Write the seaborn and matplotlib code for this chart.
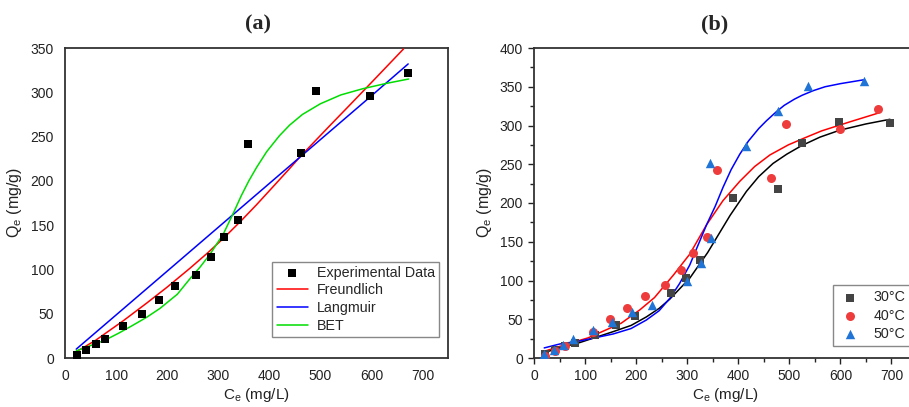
import matplotlib
matplotlib.use("Agg")
import matplotlib.pyplot as plt
from matplotlib.ticker import MultipleLocator
import seaborn as sns

# ---------------- data: panel (a) ----------------
exp_x = [23, 41, 60, 79, 114, 150, 184, 216, 256, 285, 311, 338, 358, 463, 492, 598, 672]
exp_y = [3, 9, 16, 21, 36, 50, 65, 81, 94, 114, 137, 156, 242, 232, 301, 296, 322]

freund_x = [22, 60, 114, 160, 200, 244, 280, 310, 345, 375, 410, 440, 460, 518, 560, 610, 663]
freund_y = [7, 20, 42, 62, 80, 101, 119, 135, 155, 173, 195, 214, 227, 262, 287, 317, 349]

lang_x = [22, 200, 400, 600, 672]
lang_y = [10, 98, 197, 296, 332]

bet_x = [22, 50, 78, 105, 130, 160, 186, 220, 244, 265, 285, 310, 330, 345, 360, 375,
         395, 420, 440, 465, 500, 540, 583, 629, 673]
bet_y = [8, 14, 20, 28, 36, 46, 56, 72, 89, 103, 118, 140, 164, 183, 200, 215,
         233, 251, 263, 275, 287, 297, 304, 310, 315]

# ---------------- data: panel (b) ----------------
t30_x = [21, 41, 60, 81, 119, 160, 197, 268, 297, 325, 390, 478, 524, 597, 698]
t30_y = [5, 10, 15, 19, 30, 42, 54, 84, 103, 127, 206, 218, 278, 304, 303]

t40_x = [22, 41, 61, 116, 149, 183, 217, 256, 288, 312, 338, 359, 465, 493, 599, 674]
t40_y = [2, 9, 15, 34, 50, 64, 80, 94, 113, 136, 156, 242, 232, 302, 296, 321]

t50_x = [20, 40, 57, 76, 115, 153, 191, 232, 299, 328, 346, 345, 416, 477, 537, 646]
t50_y = [5, 10, 17, 25, 36, 47, 60, 69, 100, 122, 155, 252, 274, 319, 351, 357]

fit30_x = [20, 50, 90, 155, 190, 220, 245, 266, 305, 340, 384, 416, 440, 468, 495, 524,
           560, 599, 650, 697]
fit30_y = [7, 13, 20, 34, 42, 53, 64, 76, 103, 136, 184, 215, 234, 251, 263, 274,
           285, 294, 302, 308]

fit40_x = [22, 60, 106, 171, 207, 236, 273, 305, 338, 370, 403, 432, 462, 498, 530, 563, 620, 674]
fit40_y = [9, 17, 26, 45, 62, 78, 107, 134, 172, 203, 228, 247, 262, 275, 284, 293, 305, 316]

fit50_x = [20, 50, 90, 155, 190, 220, 245, 266, 285, 305, 338, 355, 370, 386, 403, 420,
           440, 455, 475, 490, 510, 525, 547, 570, 600, 646]
fit50_y = [13, 18, 22, 31, 38, 49, 61, 77, 96, 120, 172, 196, 220, 243, 263, 280,
           296, 306, 318, 326, 334, 339, 345, 350, 354, 359]

labels_a = ["Experimental Data", "Freundlich", "Langmuir", "BET"]
labels_b = ["30\u00b0C", "40\u00b0C", "50\u00b0C"]
xticks = [0, 100, 200, 300, 400, 500, 600, 700]

# ---------------- style ----------------
sns.set_style("white")
plt.rcParams["font.family"] = ["Liberation Sans", "DejaVu Sans"]
plt.rcParams["mathtext.fontset"] = "custom"
plt.rcParams["mathtext.rm"] = "Liberation Sans"
plt.rcParams["mathtext.it"] = "Liberation Sans:italic"

W, H = 909, 407
fig = plt.figure(figsize=(W / 100, H / 100), dpi=100)

def px_axes(l, r, t, b):
    return fig.add_axes([l / W, 1 - b / H, (r - l) / W, (b - t) / H])

ax1 = px_axes(65, 448, 48, 358)
ax2 = px_axes(534, 917, 48, 358)

spine_col = "#333333"
text_col = "#222222"

# ---------------- panel (a) ----------------
sns.scatterplot(x=exp_x, y=exp_y, ax=ax1, marker="s", color="black", s=34,
                edgecolor="black", linewidth=0, label=labels_a[0], zorder=4)
sns.lineplot(x=freund_x, y=freund_y, ax=ax1, color="#ff0000", lw=1.1,
             sort=False, estimator=None, label=labels_a[1], zorder=3)
sns.lineplot(x=lang_x, y=lang_y, ax=ax1, color="#0000ff", lw=1.1,
             sort=False, estimator=None, label=labels_a[2], zorder=3)
sns.lineplot(x=bet_x, y=bet_y, ax=ax1, color="#00dd00", lw=1.1,
             sort=False, estimator=None, label=labels_a[3], zorder=3)

ax1.set_xlim(0, 750)
ax1.set_ylim(0, 350)
ax1.set_xticks(xticks)
ax1.yaxis.set_major_locator(MultipleLocator(50))
ax1.tick_params(axis="both", length=0, pad=8, labelsize=10, colors=text_col)
for sp in ax1.spines.values():
    sp.set_color(spine_col)
    sp.set_linewidth(1.3)
ax1.set_xlabel("C$_\\mathrm{e}$ (mg/L)", fontsize=11, labelpad=2, color=text_col)
ax1.set_ylabel("Q$_\\mathrm{e}$ (mg/g)", fontsize=11.5, labelpad=5, color=text_col)

leg1 = ax1.legend(loc="lower right", bbox_to_anchor=(0.977, 0.068), borderaxespad=0,
                  fontsize=10.3, frameon=True, fancybox=False, handlelength=2.2,
                  handletextpad=0.6, labelspacing=0.25, borderpad=0.3,
                  framealpha=1)
leg1.get_frame().set_edgecolor("#888888")
leg1.get_frame().set_linewidth(1.0)

# ---------------- panel (b) ----------------
sns.lineplot(x=fit30_x, y=fit30_y, ax=ax2, color="black", lw=1.1,
             sort=False, estimator=None, legend=False, zorder=3)
sns.lineplot(x=fit40_x, y=fit40_y, ax=ax2, color="#ff0000", lw=1.1,
             sort=False, estimator=None, legend=False, zorder=3)
sns.lineplot(x=fit50_x, y=fit50_y, ax=ax2, color="#0000ff", lw=1.1,
             sort=False, estimator=None, legend=False, zorder=3)
sns.scatterplot(x=t30_x, y=t30_y, ax=ax2, marker="s", color="#444444", s=32,
                linewidth=0, label=labels_b[0], zorder=4)
sns.scatterplot(x=t40_x, y=t40_y, ax=ax2, marker="o", color="#ee3b3b", s=42,
                linewidth=0, label=labels_b[1], zorder=4)
sns.scatterplot(x=t50_x, y=t50_y, ax=ax2, marker="^", color="#1f74d6", s=46,
                linewidth=0, label=labels_b[2], zorder=4)

ax2.set_xlim(0, 750)
ax2.set_ylim(0, 400)
ax2.set_xticks(xticks)
ax2.yaxis.set_major_locator(MultipleLocator(50))
ax2.xaxis.set_minor_locator(MultipleLocator(50))
ax2.yaxis.set_minor_locator(MultipleLocator(25))
ax2.tick_params(axis="both", which="major", direction="out", length=4, width=1,
                pad=4, labelsize=10, colors=text_col, bottom=True, left=True)
ax2.tick_params(axis="both", which="minor", direction="out", length=3, width=1,
                bottom=True, left=True, colors=text_col)
for sp in ax2.spines.values():
    sp.set_color(spine_col)
    sp.set_linewidth(1.3)
ax2.set_xlabel("C$_\\mathrm{e}$ (mg/L)", fontsize=11, labelpad=2, color=text_col)
ax2.set_ylabel("Q$_\\mathrm{e}$ (mg/g)", fontsize=11.5, labelpad=4, color=text_col)

leg2 = ax2.legend(loc="lower left", bbox_to_anchor=(0.781, 0.039), borderaxespad=0,
                  fontsize=10.3, frameon=True, fancybox=False, handlelength=1.6,
                  handletextpad=0.9, labelspacing=0.3, borderpad=0.35,
                  framealpha=1)
leg2.get_frame().set_edgecolor("#888888")
leg2.get_frame().set_linewidth(1.0)

# ---------------- titles ----------------
fig.text(258 / W, 1 - 24 / H, "(a)", ha="center", va="center",
         family=["Liberation Serif", "DejaVu Serif"], fontweight="bold", fontsize=16)
fig.text(715 / W, 1 - 24 / H, "(b)", ha="center", va="center",
         family=["Liberation Serif", "DejaVu Serif"], fontweight="bold", fontsize=16)

fig.savefig("out.png", dpi=100)
